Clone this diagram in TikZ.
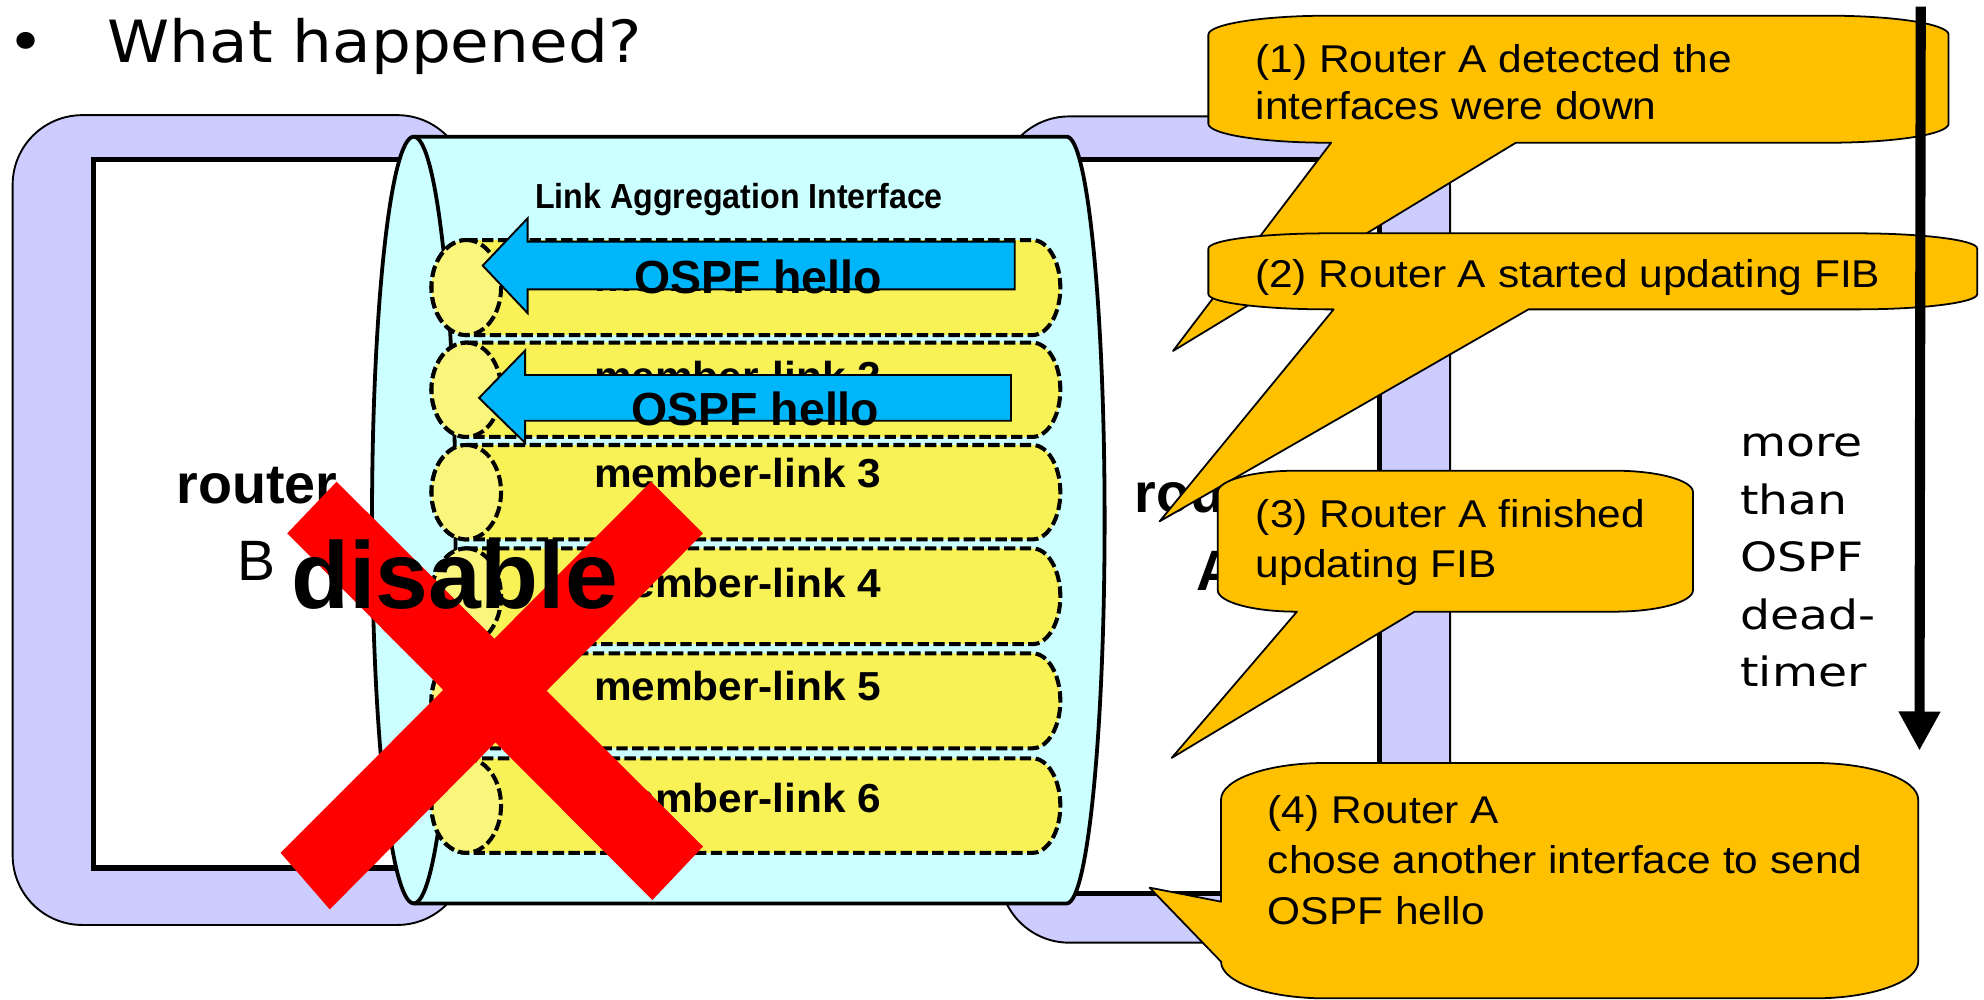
\documentclass[tikz,border=0pt]{standalone}
\usepackage{fontspec}
\usetikzlibrary{arrows.meta}
\setmainfont{Liberation Sans}
\newfontfamily\calloutfont[FakeStretch=1.096]{Liberation Sans}
\newfontfamily\titlefont[FakeStretch=1.08]{DejaVu Sans}
\newfontfamily\timerfont[FakeStretch=1.17]{DejaVu Sans}
\newfontfamily\lagfont[FakeStretch=0.925]{Liberation Sans}
\newfontfamily\memfont[FakeStretch=1.046]{Liberation Sans}
\definecolor{lav}{HTML}{CCCCFF}
\definecolor{cyl}{HTML}{CCFFFF}
\definecolor{pillcol}{HTML}{F8F257}
\definecolor{pillfacecol}{HTML}{FAF67C}
\definecolor{ospfblue}{HTML}{00B6FA}
\definecolor{calloutcol}{HTML}{FFC000}
\definecolor{xred}{HTML}{FF0000}
\tikzset{
  routerouter/.style={fill=lav, draw=black, line width=1.5pt, rounded corners=55pt},
  routerinner/.style={fill=white, draw=black, line width=4pt},
  cylbody/.style={fill=cyl, draw=black, line width=3pt, line join=round},
  cylline/.style={draw=black, line width=3pt},
  pillbody/.style={fill=pillcol, draw=black, line width=3.2pt, dash pattern=on 9pt off 3.5pt},
  pillend/.style={fill=pillfacecol, draw=black, line width=3.2pt, dash pattern=on 9pt off 3.5pt},
  hello/.style={fill=ospfblue, draw=black, line width=1.5pt},
  calloutbox/.style={fill=calloutcol, draw=black, line width=1.4pt, line join=round},
  xband/.style={fill=xred},
  lbl/.style={inner sep=0pt, outer sep=0pt},
  ctext/.style={lbl, anchor=base west, align=left},
}
\begin{document}
\begin{tikzpicture}[x=1pt,y=-1pt]
\useasboundingbox (0,0) rectangle (1568,790);

% routers
\path[routerouter] (10,91) rectangle (369,731);
\path[routerinner] (74,126) rectangle (330,686);
\path[routerouter] (790,92) rectangle (1146,745);
\path[routerinner] (820,126) rectangle (1090,706);

\node[lbl, anchor=base, font=\bfseries\fontsize{44}{48}\selectfont] (rBname) at (203,397.8) {router};
\node[lbl, anchor=base, font=\fontsize{45}{48}\selectfont] (rBid) at (203,458.4) {B};
\node[lbl, anchor=base west, font=\bfseries\fontsize{44}{48}\selectfont] (rAname) at (897,405) {router};
\node[lbl, anchor=base, font=\bfseries\fontsize{45}{48}\selectfont] (rAid) at (962,466.7) {A};

% cylinder
\path[cylbody] (327,108) -- (843,108)
  .. controls (859.6,108) and (873,243.7) .. (873,411)
  .. controls (873,578.3) and (859.6,714) .. (843,714)
  -- (327,714)
  .. controls (308.8,714) and (294,578.3) .. (294,411)
  .. controls (294,243.7) and (308.8,108) .. (327,108) -- cycle;
\path[cylline] (327,108) .. controls (345.2,108) and (360,243.7) .. (360,411)
  .. controls (360,578.3) and (345.2,714) .. (327,714);

\node[lbl, anchor=base, font=\lagfont\bfseries\fontsize{27.5}{30}\selectfont] (lag) at (584,164.7) {Link Aggregation Interface};

% member links
\foreach \ytop/\ybot/\lab/\lbase in {189.7/264.8/1/230, 270.8/345.3/2/309, 351.7/426.3/3/385, 433.4/509.1/4/472.5, 516.3/591.4/5/553.5, 599.3/674/6/642}{
  \pgfmathsetmacro{\ymid}{(\ytop+\ybot)/2}
  \pgfmathsetmacro{\yk}{0.552*(\ybot-\ytop)/2}
  \pgfmathsetmacro{\yup}{\ymid-\yk}
  \pgfmathsetmacro{\ydn}{\ymid+\yk}
  \path[pillbody] (368.5,\ytop) -- (816,\ytop)
    .. controls (828.1,\ytop) and (838,\yup) .. (838,\ymid)
    .. controls (838,\ydn) and (828.1,\ybot) .. (816,\ybot)
    -- (368.5,\ybot)
    .. controls (353.3,\ybot) and (341,\ydn) .. (341,\ymid)
    .. controls (341,\yup) and (353.3,\ytop) .. (368.5,\ytop) -- cycle;
  \path[pillend] (368.5,\ytop)
    .. controls (383.7,\ytop) and (396,\yup) .. (396,\ymid)
    .. controls (396,\ydn) and (383.7,\ybot) .. (368.5,\ybot)
    .. controls (353.3,\ybot) and (341,\ydn) .. (341,\ymid)
    .. controls (341,\yup) and (353.3,\ytop) .. (368.5,\ytop) -- cycle;
  \node[lbl, anchor=base, font=\memfont\bfseries\fontsize{32}{36}\selectfont] (member\lab) at (583,\lbase) {member-link \lab};
}

% OSPF hello arrows
\path[hello] (802,191) -- (417,191) -- (417,172.5) -- (381.5,209.9) -- (417,247.5) -- (417,228.7) -- (802,228.7) -- cycle;
\node[lbl, anchor=base, font=\bfseries\fontsize{36.7}{40}\selectfont] (hello1) at (599,231.8) {OSPF hello};
\path[hello] (799,296.4) -- (415,296.4) -- (415,277) -- (378.6,314.5) -- (415,350) -- (415,332.5) -- (799,332.5) -- cycle;
\node[lbl, anchor=base, font=\bfseries\fontsize{36.7}{40}\selectfont] (hello2) at (597,336.5) {OSPF hello};

% red cross
\path[xband] (266,380.7) -- (555.6,669) -- (515.6,711.3) -- (227,421.5) -- cycle;
\path[xband] (514.5,380.7) -- (555.6,421.5) -- (260.6,718.7) -- (221.8,674) -- cycle;
\node[lbl, anchor=base west, font=\bfseries\fontsize{75}{80}\selectfont] (disable) at (230,481) {disable};

% callouts
\path[calloutbox] (1050,12.4) -- (1445,12.4)
  .. controls (1497.4,12.4) and (1540,19.1) .. (1540,27.4) -- (1540,97.8)
  .. controls (1540,106.1) and (1497.4,112.8) .. (1445,112.8)
  -- (1198,112.8) -- (927,277.4) -- (1052,112.8) -- (1050,112.8)
  .. controls (997.6,112.8) and (955,106.1) .. (955,97.8) -- (955,27.4)
  .. controls (955,19.1) and (997.6,12.4) .. (1050,12.4) -- cycle;
\node[ctext, font=\calloutfont\fontsize{30.6}{37}\selectfont] (c1text) at (992.4,94.3) {(1) Router A detected the\\interfaces were down};

\path[calloutbox] (1050,184.4) -- (1467.6,184.4)
  .. controls (1520,184.4) and (1562.6,189.8) .. (1562.6,196.4) -- (1562.6,232.5)
  .. controls (1562.6,239.1) and (1520,244.5) .. (1467.6,244.5)
  -- (1208,244.5) -- (916.5,412) -- (1054,244.5) -- (1050,244.5)
  .. controls (997.6,244.5) and (955,239.1) .. (955,232.5) -- (955,196.4)
  .. controls (955,189.8) and (997.6,184.4) .. (1050,184.4) -- cycle;
\node[ctext, font=\calloutfont\fontsize{30.6}{37}\selectfont] (c2text) at (992,227) {(2) Router A started updating FIB};

\path[calloutbox] (1024.4,372) -- (1276,372)
  .. controls (1310.2,372) and (1338,379.6) .. (1338,389) -- (1338,466.4)
  .. controls (1338,475.8) and (1310.2,483.4) .. (1276,483.4)
  -- (1118,483.4) -- (926,599) -- (1025,483.4) -- (1024.4,483.4)
  .. controls (990.2,483.4) and (962.4,475.8) .. (962.4,466.4) -- (962.4,389)
  .. controls (962.4,379.6) and (990.2,372) .. (1024.4,372) -- cycle;
\node[ctext, font=\calloutfont\fontsize{30.6}{39.5}\selectfont] (c3text) at (992.6,456.3) {(3) Router A finished\\updating FIB};

\path[calloutbox] (1047,603) -- (1434,603)
  .. controls (1479.3,603) and (1516,616) .. (1516,632) -- (1516,760)
  .. controls (1516,776) and (1479.3,789) .. (1434,789) -- (1047,789)
  .. controls (1001.7,789) and (965,776) .. (965,760)
  -- (908.5,701.5) -- (965,712.6) -- (965,632)
  .. controls (965,616) and (1001.7,603) .. (1047,603) -- cycle;
\node[ctext, font=\calloutfont\fontsize{30.6}{40}\selectfont] (c4text) at (1002,730.7) {(4) Router A\\chose another interface to send\\OSPF hello};

% time arrow
\coordinate (timeTop) at (1518,5.3);
\coordinate (timeEnd) at (1517,593.3);
\draw[line width=8pt, -{Triangle[width=31pt,length=31pt]}] (timeTop) -- (timeEnd);
\node[ctext, font=\timerfont\fontsize{31.9}{45.4}\selectfont] (deadtimer) at (1375.5,542.7) {more\\than\\OSPF\\dead-\\timer};

% title
\node[lbl, anchor=base west, font=\titlefont\fontsize{46}{50}\selectfont] (title) at (6,49.5) {\makebox[79pt][l]{•}What happened?};
\end{tikzpicture}
\end{document}
